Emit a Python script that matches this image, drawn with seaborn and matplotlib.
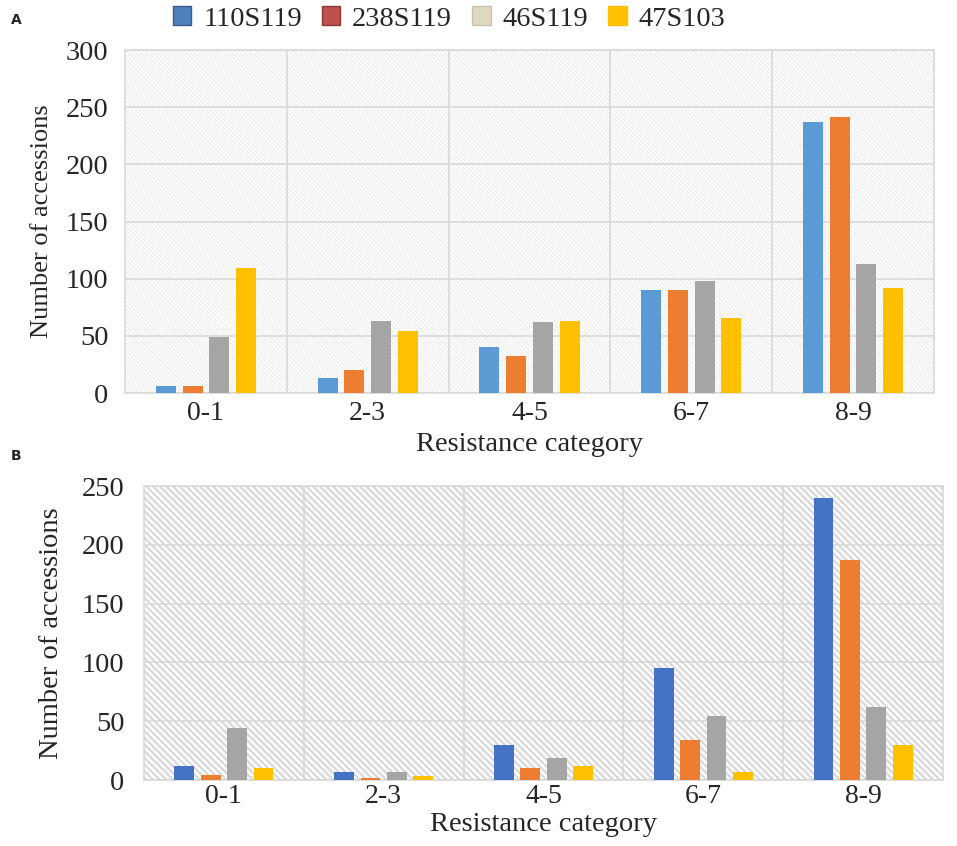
import matplotlib
matplotlib.use("Agg")
import matplotlib.pyplot as plt
from matplotlib.patches import Patch
import seaborn as sns
import pandas as pd

categories = ["0-1", "2-3", "4-5", "6-7", "8-9"]
isolates = ["110S119", "238S119", "46S119", "47S103"]

a_110S119 = [6, 13, 40, 90, 237]
a_238S119 = [6, 20, 32, 90, 241]
a_46S119 = [49, 63, 62, 98, 113]
a_47S103 = [109, 54, 63, 66, 92]

b_110S119 = [12, 7, 30, 95, 240]
b_238S119 = [4, 2, 10, 34, 187]
b_46S119 = [44, 7, 19, 54, 62]
b_47S103 = [10, 3, 12, 7, 30]

a_ticks = [0, 50, 100, 150, 200, 250, 300]
b_ticks = [0, 50, 100, 150, 200, 250]

sns.set_style("white")
plt.rcParams["font.family"] = ["Liberation Serif", "DejaVu Serif"]


def long_df(series):
    rows = []
    for iso, vals in zip(isolates, series):
        for c, v in zip(categories, vals):
            rows.append({"category": c, "isolate": iso, "count": v})
    return pd.DataFrame(rows)


df_a = long_df([a_110S119, a_238S119, a_46S119, a_47S103])
df_b = long_df([b_110S119, b_238S119, b_46S119, b_47S103])

pal_a = ["#5B9BD5", "#ED7D31", "#A5A5A5", "#FFC000"]
pal_b = ["#4472C4", "#ED7D31", "#A5A5A5", "#FFC000"]
legend_cols = ["#4F81BD", "#C0504D", "#DDD9C3", "#FFC000"]
legend_edges = ["#385D8A", "#8C3836", "#C8C4AE", "#FFC000"]

fig = plt.figure(figsize=(9.57, 8.46), dpi=100)
W, H = 957, 846

plt.rcParams["hatch.linewidth"] = 0.8
ax_a = fig.add_axes([125 / W, 1 - 393 / H, (934 - 125) / W, (393 - 50) / H])
plt.rcParams["hatch.linewidth"] = 1.6
ax_b = fig.add_axes([144 / W, 1 - 780 / H, (943 - 144) / W, (780 - 486) / H])


def style(ax, df, pal, ticks, hatch, hatch_col, hatch_lw, ymax, ylab_size, ypad, xpad):
    ax.patch.set_facecolor("white")
    ax.patch.set_hatch(hatch)
    ax.patch.set_edgecolor(hatch_col)
    ax.patch.set_linewidth(0)
    if hasattr(ax.patch, "set_hatch_linewidth"):
        ax.patch.set_hatch_linewidth(hatch_lw)
    sns.barplot(data=df, x="category", y="count", hue="isolate", hue_order=isolates,
                palette=pal, width=0.66, gap=0.25, legend=False, ax=ax,
                saturation=1, zorder=3, linewidth=0)
    ax.set_ylim(0, ymax)
    ax.set_xlim(-0.5, len(categories) - 0.5)
    ax.set_yticks(ticks)
    ax.set_yticklabels([str(t) for t in ticks], fontsize=20.5)
    ax.set_xticks(range(len(categories)))
    ax.set_xticklabels(categories, fontsize=20)
    ax.set_xticks([i + 0.5 for i in range(len(categories) - 1)], minor=True)
    ax.tick_params(axis="y", which="both", length=0, pad=ypad)
    ax.tick_params(axis="x", which="both", length=0, pad=xpad)
    ax.grid(axis="y", which="major", color="#d9d9d9", linewidth=1.2, zorder=1)
    ax.grid(axis="x", which="minor", color="#d9d9d9", linewidth=1.2, zorder=1)
    ax.grid(axis="x", which="major", visible=False)
    ax.set_axisbelow(True)
    for s in ax.spines.values():
        s.set_color("#d9d9d9")
        s.set_linewidth(1.2)
    ax.set_ylabel("Number of accessions", fontsize=ylab_size)
    ax.set_xlabel("Resistance category", fontsize=20.5)


style(ax_a, df_a, pal_a, a_ticks, "\\" * 8, "#ebebeb", 0.8, 300, 19, 12, 6)
style(ax_b, df_b, pal_b, b_ticks, "\\" * 5, "#d8d8d8", 1.6, 250, 20.5, 14, 3)
ax_a.yaxis.set_label_coords(-0.089, 0.5)
ax_b.yaxis.set_label_coords(-0.100, 0.5)
ax_a.xaxis.set_label_coords(0.5, -0.113)
ax_b.xaxis.set_label_coords(0.5, -0.108)

handles = [Patch(facecolor=c, edgecolor=e, linewidth=1) for c, e in zip(legend_cols, legend_edges)]
fig.legend(handles, isolates, loc="center", bbox_to_anchor=(449 / W, 1 - 19 / H), ncol=4,
           frameon=False, fontsize=20.5, handlelength=0.65, handleheight=0.65,
           handletextpad=0.42, columnspacing=0.7, borderpad=0)

fig.text(16 / W, 1 - 20 / H, "A", fontsize=10, fontweight="bold", family="DejaVu Sans",
         ha="center", va="center")
fig.text(16 / W, 1 - 456 / H, "B", fontsize=10, fontweight="bold", family="DejaVu Sans",
         ha="center", va="center")

fig.savefig("out.png", dpi=100)
